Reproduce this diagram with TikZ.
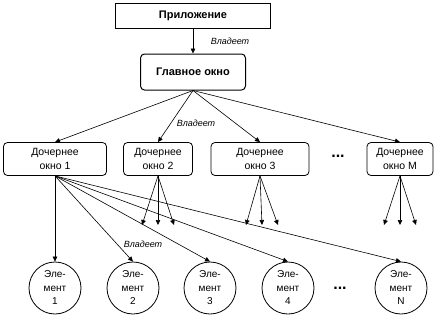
\documentclass[tikz,border=0pt]{standalone}
\usepackage{fontspec}
\setmainfont{Liberation Sans}
\usetikzlibrary{arrows.meta}
\tikzset{
  app-box/.style={draw,line width=1pt,minimum width=155pt,minimum height=25pt,
    font=\fontsize{11}{13}\selectfont\bfseries},
  main-box/.style={draw,line width=1pt,rounded corners=4pt,minimum width=105pt,
    minimum height=36pt,font=\fontsize{11}{13}\selectfont\bfseries},
  child-box/.style={draw,line width=0.8pt,rounded corners=4pt,minimum height=33pt,
    inner sep=1pt,align=center,font=\fontsize{10.5}{14}\selectfont},
  elem-node/.style={draw,line width=0.8pt,circle,minimum size=52pt,inner sep=0pt,
    align=center,font=\fontsize{10}{13.5}\selectfont},
  arrow/.style={-{Triangle[length=5pt,width=4.5pt]},line width=0.6pt},
  own-label/.style={font=\fontsize{9}{10}\selectfont\itshape},
  dots/.style={font=\fontsize{16}{16}\selectfont\bfseries},
}
\begin{document}
\begin{tikzpicture}[x=1pt,y=-1pt]
  \useasboundingbox (0,0) rectangle (437,316);
  % окна
  \node[app-box] (app) at (193,16) {Приложение};
  \node[main-box] (main) at (193,72) {Главное окно};
  \node[child-box,minimum width=103pt] (c1) at (55,159) {Дочернее\\окно 1};
  \node[child-box,minimum width=69pt] (c2) at (158,159) {Дочернее\\окно 2};
  \node[child-box,minimum width=98pt] (c3) at (260,159) {Дочернее\\окно 3};
  \node[dots] (cdots) at (338,156) {...};
  \node[child-box,minimum width=66pt] (cm) at (400,159) {Дочернее\\окно M};
  % элементы
  \node[elem-node] (e1) at (55,288) {Эле-\\мент\\1};
  \node[elem-node] (e2) at (133,288) {Эле-\\мент\\2};
  \node[elem-node] (e3) at (210,288) {Эле-\\мент\\3};
  \node[elem-node] (e4) at (288,288) {Эле-\\мент\\4};
  \node[dots] (edots) at (340,288) {...};
  \node[elem-node] (en) at (401,288) {Эле-\\мент\\N};
  % связи владения
  \draw[arrow] (app) -- (main);
  \node[own-label] (l1) at (230,41) {Владеет};
  \foreach \c in {c1,c2,c3,cm}
    \draw[arrow] (main.south) -- (\c.north);
  \node[own-label] (l2) at (196,123) {Владеет};
  \foreach \e in {e1,e2,e3,e4,en}
    \draw[arrow] (c1.south) -- (\e.north);
  \node[own-label] (l3) at (143,244) {Владеет};
  % элементы остальных окон
  \foreach \c/\x in {c2/158,c3/262,cm/400}
    \foreach \d in {-16,0,16} {
      \coordinate (\c-t\d) at (\x+\d,225);
      \draw[arrow] (\c.south) -- (\c-t\d);
    }
\end{tikzpicture}
\end{document}
